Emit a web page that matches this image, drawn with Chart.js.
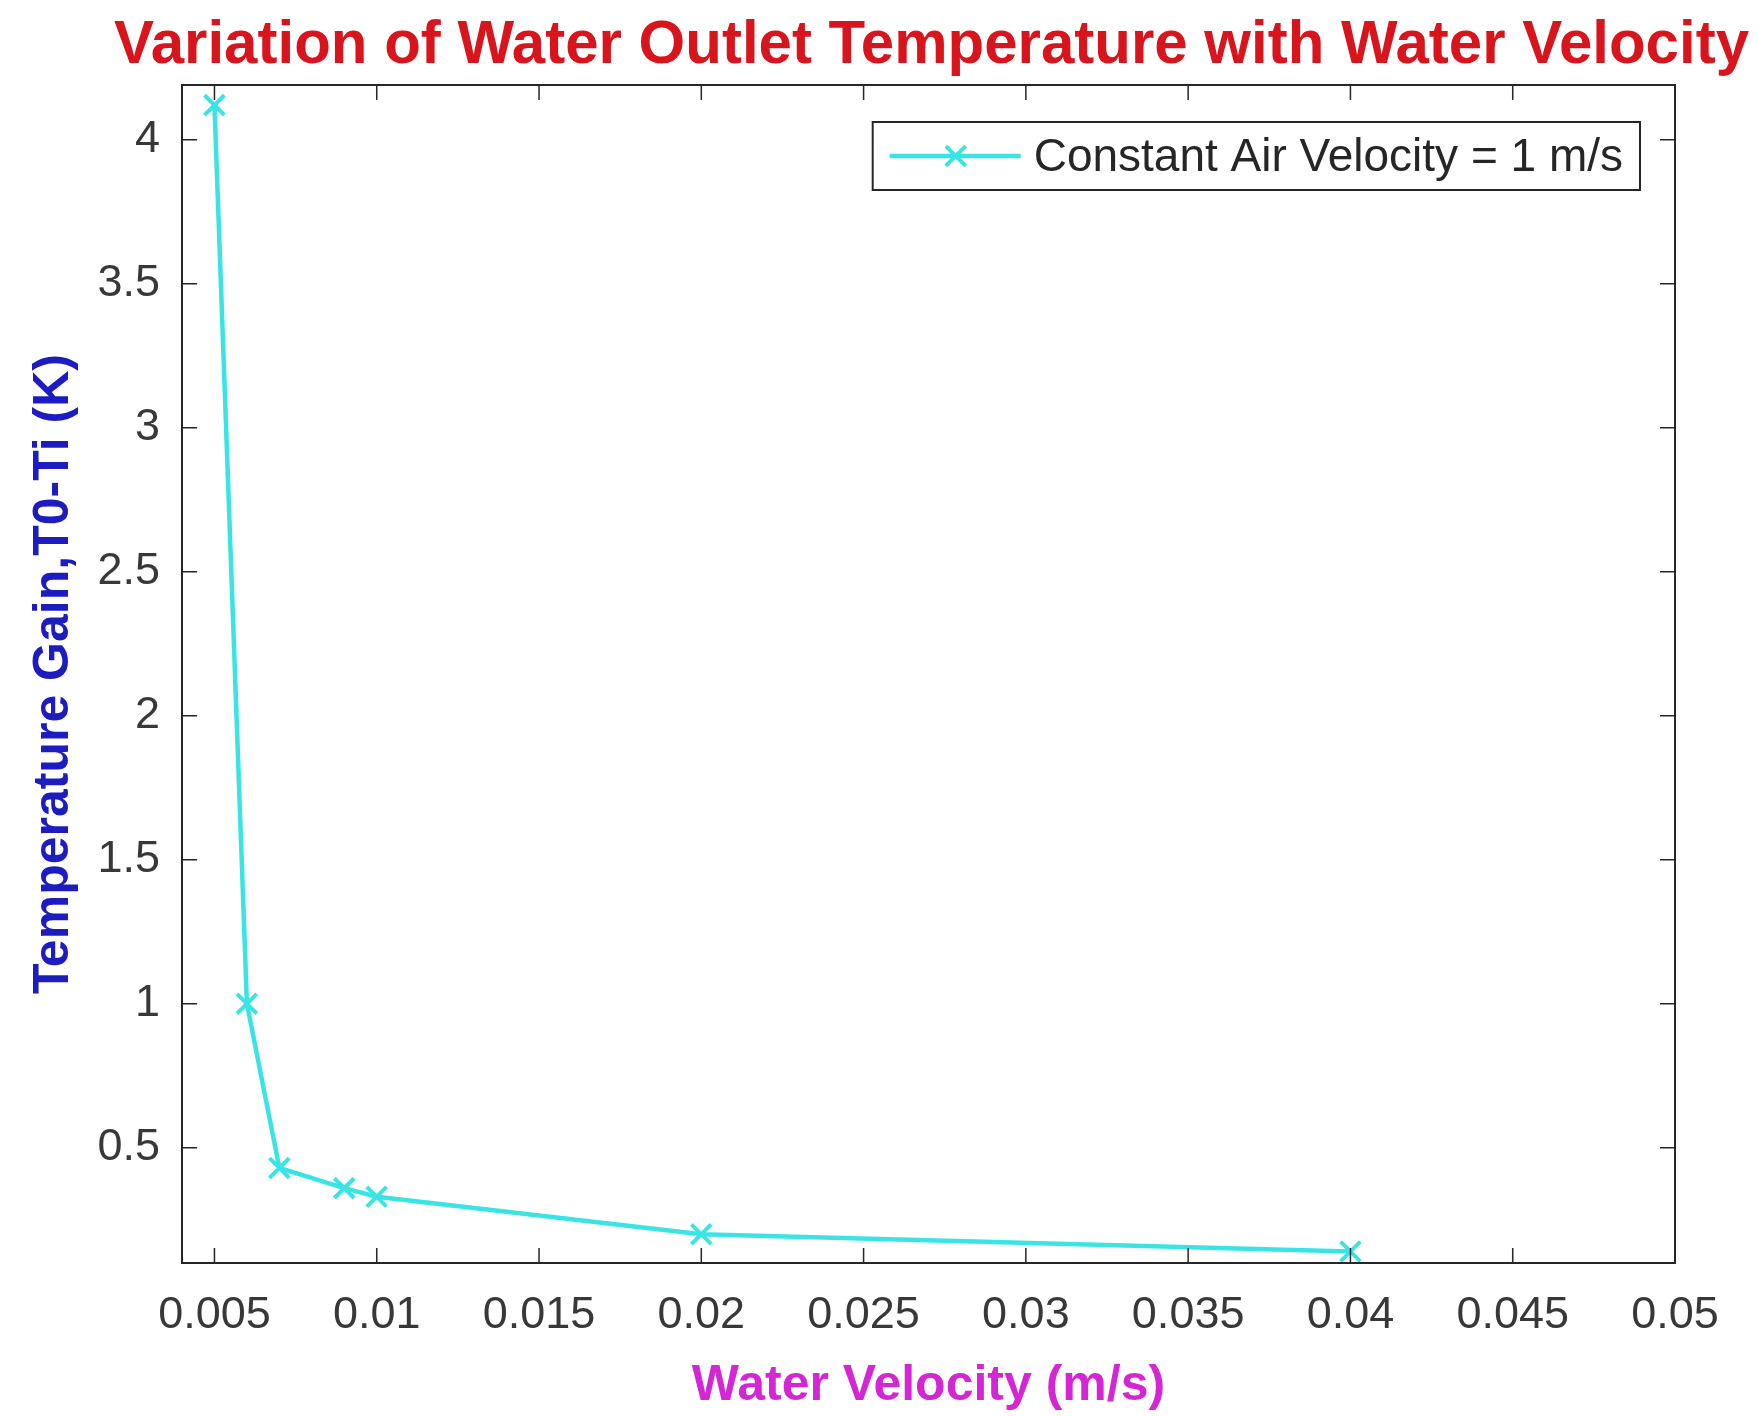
<!DOCTYPE html>
<html>
<head>
<meta charset="utf-8">
<title>Water Outlet Temperature vs Water Velocity</title>
<script src="https://cdn.jsdelivr.net/npm/chart.js@4.4.1/dist/chart.umd.min.js"></script>
<style>
  html, body { margin: 0; padding: 0; background: #fff; }
  canvas { display: block; }
</style>
</head>
<body>
<canvas id="tempChart" width="1759" height="1416"></canvas>
<script>
// water velocity (m/s) against outlet temperature gain (K), air at 1 m/s
const waterVelocity = [0.005, 0.006, 0.007, 0.009, 0.01, 0.02, 0.04];
const tempGain = [4.12, 1.0, 0.43, 0.36, 0.33, 0.2, 0.14];

const xTicks = [0.005, 0.01, 0.015, 0.02, 0.025, 0.03, 0.035, 0.04, 0.045, 0.05];
const yTicks = [0.5, 1, 1.5, 2, 2.5, 3, 3.5, 4];

const seriesLabel = 'Constant Air Velocity = 1 m/s';
const titleText = 'Variation of Water Outlet Temperature with Water Velocity';
const xTitle = 'Water Velocity (m/s)';
const yTitle = 'Temperature Gain,T0-Ti (K)';

const FONT = '"Liberation Sans", Arial, Helvetica, sans-serif';
const AXIS_COLOR = '#262626';
const LINE_COLOR = '#3ae4e4';

// title centred over the plot box (not the canvas), squeezed a little like the original
const boxTitle = {
  id: 'boxTitle',
  afterDraw(chart) {
    const { ctx, chartArea: a } = chart;
    ctx.save();
    ctx.font = 'bold 62px ' + FONT;
    ctx.fillStyle = '#d8141c';
    ctx.textAlign = 'center';
    ctx.textBaseline = 'alphabetic';
    ctx.fillText(titleText, (a.left + a.right) / 2 + 3, 63, 1635);
    ctx.restore();
  }
};

// closed frame round the plot area with inward ticks on all four sides
const axesFrame = {
  id: 'axesFrame',
  afterDraw(chart) {
    const { ctx, chartArea: a, scales } = chart;
    const tick = 15;
    ctx.save();
    ctx.strokeStyle = AXIS_COLOR;
    ctx.lineWidth = 1.5;
    ctx.beginPath();
    xTicks.forEach(v => {
      const px = scales.x.getPixelForValue(v);
      ctx.moveTo(px, a.bottom); ctx.lineTo(px, a.bottom - tick);
      ctx.moveTo(px, a.top); ctx.lineTo(px, a.top + tick);
    });
    yTicks.forEach(v => {
      const py = scales.y.getPixelForValue(v);
      ctx.moveTo(a.left, py); ctx.lineTo(a.left + tick, py);
      ctx.moveTo(a.right, py); ctx.lineTo(a.right - tick, py);
    });
    ctx.stroke();
    ctx.lineWidth = 2;
    ctx.strokeRect(a.left, a.top, a.right - a.left, a.bottom - a.top);
    ctx.restore();
  }
};

// legend box inside the top-right corner: line sample with a cross marker
const boxLegend = {
  id: 'boxLegend',
  afterDraw(chart) {
    const { ctx, chartArea: a } = chart;
    const ds = chart.data.datasets[0];
    ctx.save();
    ctx.font = '46px ' + FONT;
    const textW = ctx.measureText(ds.label).width;
    const h = 68;
    const w = 161 + textW + 17;
    const right = a.right - 35;
    const top = a.top + 37;
    const left = right - w;
    ctx.fillStyle = '#fff';
    ctx.fillRect(left, top, w, h);
    ctx.strokeStyle = AXIS_COLOR;
    ctx.lineWidth = 2;
    ctx.strokeRect(left, top, w, h);

    const cy = top + h / 2;
    ctx.strokeStyle = ds.borderColor;
    ctx.lineWidth = ds.borderWidth;
    ctx.beginPath();
    ctx.moveTo(left + 17, cy);
    ctx.lineTo(left + 148, cy);
    ctx.stroke();
    const mx = left + 83, r = ds.pointRadius * Math.SQRT1_2;
    ctx.lineWidth = ds.pointBorderWidth;
    ctx.beginPath();
    ctx.moveTo(mx - r, cy - r); ctx.lineTo(mx + r, cy + r);
    ctx.moveTo(mx - r, cy + r); ctx.lineTo(mx + r, cy - r);
    ctx.stroke();

    ctx.fillStyle = AXIS_COLOR;
    ctx.textAlign = 'left';
    ctx.textBaseline = 'middle';
    ctx.fillText(ds.label, left + 161, cy + 2);
    ctx.restore();
  }
};

const ctx = document.getElementById('tempChart').getContext('2d');

new Chart(ctx, {
  type: 'line',
  data: {
    datasets: [{
      label: seriesLabel,
      data: waterVelocity.map((v, i) => ({ x: v, y: tempGain[i] })),
      borderColor: LINE_COLOR,
      backgroundColor: LINE_COLOR,
      borderWidth: 4.5,
      pointStyle: 'crossRot',
      pointRadius: 14,
      pointBorderWidth: 4,
      pointBorderColor: LINE_COLOR,
      tension: 0,
      clip: false
    }]
  },
  options: {
    responsive: false,
    animation: false,
    devicePixelRatio: 1,
    layout: { padding: { top: 85, right: 84, bottom: 0, left: 0 } },
    plugins: {
      legend: { display: false },
      tooltip: { enabled: false },
      title: { display: false }
    },
    scales: {
      x: {
        type: 'linear',
        min: 0.004,
        max: 0.05,
        grid: { display: false, drawTicks: false },
        border: { display: false },
        afterBuildTicks: s => { s.ticks = xTicks.map(v => ({ value: v })); },
        afterFit: s => { s.height = 153; },
        ticks: {
          color: '#383838',
          font: { family: FONT, size: 45 },
          padding: 26,
          maxRotation: 0,
          autoSkip: false,
          callback: v => String(v)
        },
        title: {
          display: true,
          text: xTitle,
          color: '#d426d4',
          font: { family: FONT, size: 50, weight: 'bold' },
          padding: { top: 6, bottom: 0 }
        }
      },
      y: {
        type: 'linear',
        min: 0.1,
        max: 4.19,
        grid: { display: false, drawTicks: false },
        border: { display: false },
        afterBuildTicks: s => { s.ticks = yTicks.map(v => ({ value: v })); },
        afterFit: s => { s.width = 182; },
        ticks: {
          color: '#383838',
          font: { family: FONT, size: 45 },
          padding: 22,
          autoSkip: false,
          callback: v => String(v)
        },
        title: {
          display: true,
          text: yTitle,
          color: '#1c1cc0',
          font: { family: FONT, size: 50, weight: 'bold' },
          padding: { top: 24, bottom: 0 }
        }
      }
    }
  },
  plugins: [axesFrame, boxLegend, boxTitle]
});
</script>
</body>
</html>
